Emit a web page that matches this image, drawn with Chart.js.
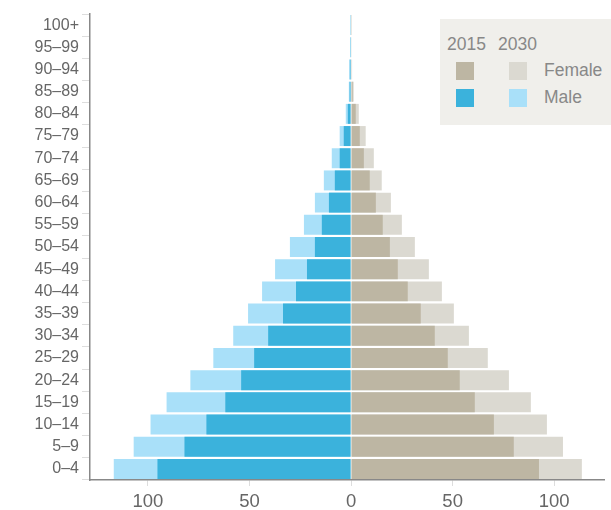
<!DOCTYPE html>
<html>
<head>
<meta charset="utf-8">
<script src="https://cdn.jsdelivr.net/npm/chart.js@4/dist/chart.umd.min.js"></script>
<style>
  body { margin: 0; background: #fff; }
  #wrap { position: relative; width: 611px; height: 510px; }
  #legendBox {
    position: absolute; left: 440px; top: 19px; width: 171px; height: 106px;
    background: #f0efeb; font-family: "Liberation Sans", Arial, sans-serif;
    color: #888; font-size: 17.5px;
  }
  #legendBox span { position: absolute; }
  .sw { position: absolute; width: 18px; height: 18px; }
</style>
</head>
<body>
<div id="wrap">
  <canvas id="pyramid"></canvas>
  <div id="legendBox">
    <span style="left:7px; top:15px;">2015</span>
    <span style="left:58px; top:15px;">2030</span>
    <div class="sw" style="left:16px; top:43px; background:#bdb6a3"></div>
    <div class="sw" style="left:69px; top:43px; background:#dbd9d1"></div>
    <span style="left:104px; top:41px;">Female</span>
    <div class="sw" style="left:16px; top:70px; background:#3bb2dc"></div>
    <div class="sw" style="left:69px; top:70px; background:#a9e0f9"></div>
    <span style="left:104px; top:68px;">Male</span>
  </div>
</div>
<script>
// age groups, top to bottom
var ages = ['100+','95–99','90–94','85–89','80–84','75–79','70–74','65–69','60–64','55–59','50–54',
            '45–49','40–44','35–39','30–34','25–29','20–24','15–19','10–14','5–9','0–4'];

var male2015 = [0.1,0.4,0.6,0.7,1.6,3.6,5.6,8.0,10.9,14.4,17.8,21.7,27.1,33.5,40.8,47.7,54.1,61.9,71.2,82.0,95.3];
var male2030 = [0.3,0.5,0.9,1.1,2.6,5.6,9.5,13.4,17.8,23.2,30.1,37.4,43.8,50.7,58.0,67.8,79.1,90.8,98.7,107.0,116.8];
var female2015 = [0.1,0.2,0.3,0.8,2.3,4.3,6.3,9.2,12.2,15.6,19.1,23.0,27.9,34.3,41.2,47.6,53.5,60.9,70.3,80.1,92.5];
var female2030 = [0.2,0.3,0.5,1.3,3.8,7.2,11.2,15.1,19.6,25.0,31.4,38.3,44.7,50.6,58.0,67.3,77.7,88.5,96.4,104.3,113.6];

var xTicks = [-100, -50, 0, 50, 100];

var font = "'Liberation Sans', Arial, sans-serif";

function neg(arr){
  return arr.map(function(v){ return -v; });
}

function bars(label, data, color){
  return {
    label: label,
    data: data,
    backgroundColor: color,
    borderWidth: 0,
    grouped: false,
    barPercentage: 0.9,
    categoryPercentage: 1.0
  };
}

new Chart(document.getElementById('pyramid'), {
  type: 'bar',
  data: {
    labels: ages,
    datasets: [
      bars('Male 2015', neg(male2015), '#3bb2dc'),
      bars('Female 2015', female2015, '#bdb6a3'),
      bars('Male 2030', neg(male2030), '#a9e0f9'),
      bars('Female 2030', female2030, '#dbd9d1')
    ]
  },
  options: {
    indexAxis: 'y',
    responsive: true,
    maintainAspectRatio: false,
    animation: false,
    layout: { padding: { top: 14, right: 7, left: 0, bottom: 0 } },
    plugins: {
      legend: { display: false },
      tooltip: { enabled: false }
    },
    scales: {
      x: {
        min: -128.5,
        max: 124.5,
        afterBuildTicks: function(scale){
          scale.ticks = xTicks.map(function(v){ return { value: v }; });
        },
        afterFit: function(scale){ scale.height = 30; },
        ticks: {
          color: '#666',
          font: { family: font, size: 18.5 },
          padding: 5,
          callback: function(v){ return Math.abs(v); }
        },
        grid: { drawOnChartArea: false, drawTicks: true, tickLength: 6, color: '#ddd' },
        border: { color: '#888', width: 1.5 }
      },
      y: {
        afterFit: function(scale){ scale.width = 90; },
        ticks: {
          color: '#666',
          font: { family: font, size: 16 },
          padding: 3,
          autoSkip: false
        },
        grid: { drawOnChartArea: false, drawTicks: true, tickLength: 8, color: '#ddd' },
        border: { color: '#888', width: 1.5 }
      }
    }
  }
});
</script>
</body>
</html>
